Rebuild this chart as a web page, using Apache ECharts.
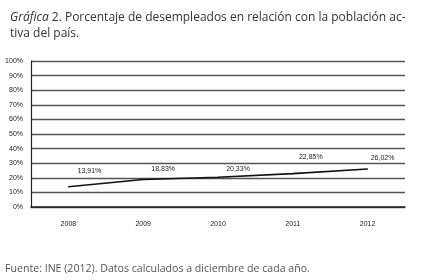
<!DOCTYPE html>
<html><head><meta charset="utf-8">
<script src="https://cdn.jsdelivr.net/npm/echarts@6/dist/echarts.min.js"></script>
<style>html,body{margin:0;padding:0;background:#fff}#c{width:423px;height:280px}</style>
</head><body><div id="c"></div>
<script>
const years = ['2008','2009','2010','2011','2012'];
const unemployment = [13.91, 18.83, 20.33, 22.85, 26.02];
const yTicks = [0,10,20,30,40,50,60,70,80,90,100];
// label offsets [dx, dy] relative to the default top label placement
const labelOffsets = [[21,-4],[20,2],[20,4],[18,-5],[15,1]];

const chart = echarts.init(document.getElementById('c'), null, {renderer:'canvas'});
chart.setOption({
  animation:false,
  backgroundColor:'#fff',
  title:{
    left:5, top:5,
    text:'{i|Gráfica} 2. Porcentaje de desempleados en relación con la población ac-\ntiva del país.',
    textStyle:{
      fontFamily:'Open Sans', fontSize:12, fontWeight:'normal', color:'#333', lineHeight:16,
      rich:{ i:{fontStyle:'italic', fontFamily:'Open Sans', fontSize:12, color:'#333', lineHeight:16} }
    }
  },
  graphic:[{
    type:'text', left:5, top:263,
    style:{text:'Fuente: INE (2012). Datos calculados a diciembre de cada año.', font:'10.6px "Open Sans"', fill:'#555'}
  }],
  grid:{left:31, right:18, top:61, bottom:73, containLabel:false},
  xAxis:{
    type:'category', data:years, boundaryGap:true,
    axisLine:{lineStyle:{color:'#222', width:1.5}},
    axisTick:{inside:true, length:3, lineStyle:{color:'#222'}},
    axisLabel:{fontFamily:'Liberation Sans', fontSize:7, color:'#222', margin:14}
  },
  yAxis:{
    type:'value', min:0, max:100, interval:10,
    axisLine:{show:true, lineStyle:{color:'#222', width:1.2}},
    axisTick:{show:false},
    splitLine:{lineStyle:{color:'#555', width:1.4}},
    axisLabel:{fontFamily:'Liberation Sans', fontSize:7, color:'#222', margin:8,
      formatter:v=> yTicks.includes(v) ? v+'%' : ''}
  },
  series:[{
    type:'line',
    data:unemployment.map((v,i)=>({value:v, label:{offset:labelOffsets[i]}})),
    showSymbol:true, symbol:'circle', symbolSize:1,
    itemStyle:{color:'#111'},
    lineStyle:{color:'#111', width:1.6},
    label:{show:true, position:'top', distance:8, fontFamily:'Liberation Sans', fontSize:7, color:'#222',
      formatter:p=>String(p.value.toFixed(2)).replace('.',',')+'%'}
  }]
});
</script></body></html>
